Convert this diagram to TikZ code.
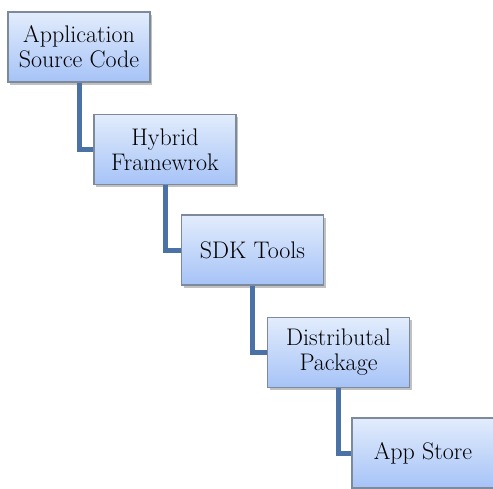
\documentclass[tikz,border=0pt]{standalone}
\usepackage{fontspec}
\usetikzlibrary{shadows,positioning}
\definecolor{boxtop}{HTML}{E2ECFC}
\definecolor{boxbot}{HTML}{A6C3F7}
\definecolor{boxline}{HTML}{7D8A9C}
\definecolor{linkblue}{HTML}{4A72A6}
\tikzset{
  stage/.style={draw=boxline, line width=1.3pt, top color=boxtop, bottom color=boxbot,
    minimum width=142pt, minimum height=70pt, inner sep=0pt, align=center,
    font=\fontsize{24}{25}\selectfont,
    drop shadow={shadow xshift=2pt, shadow yshift=-2.5pt, opacity=0.35, fill=black!70}},
  link/.style={draw=linkblue, line width=5pt, line join=miter}
}
\begin{document}
\begin{tikzpicture}[x=1pt,y=-1pt]
\useasboundingbox (0,0) rectangle (493,488);
\node[stage] (a) at (79,47) {Application\\Source Code};
\node[stage] (b) at (165,149.5) {Hybrid\\Framewrok};
\node[stage] (c) at (252.5,250) {SDK Tools};
\node[stage] (d) at (338.5,352.5) {Distributal\\Package};
\node[stage] (e) at (423,453) {App Store};
\draw[link] (a.south) |- (b.west);
\draw[link] (b.south) |- (c.west);
\draw[link] (c.south) |- (d.west);
\draw[link] (d.south) |- (e.west);
\end{tikzpicture}
\end{document}
